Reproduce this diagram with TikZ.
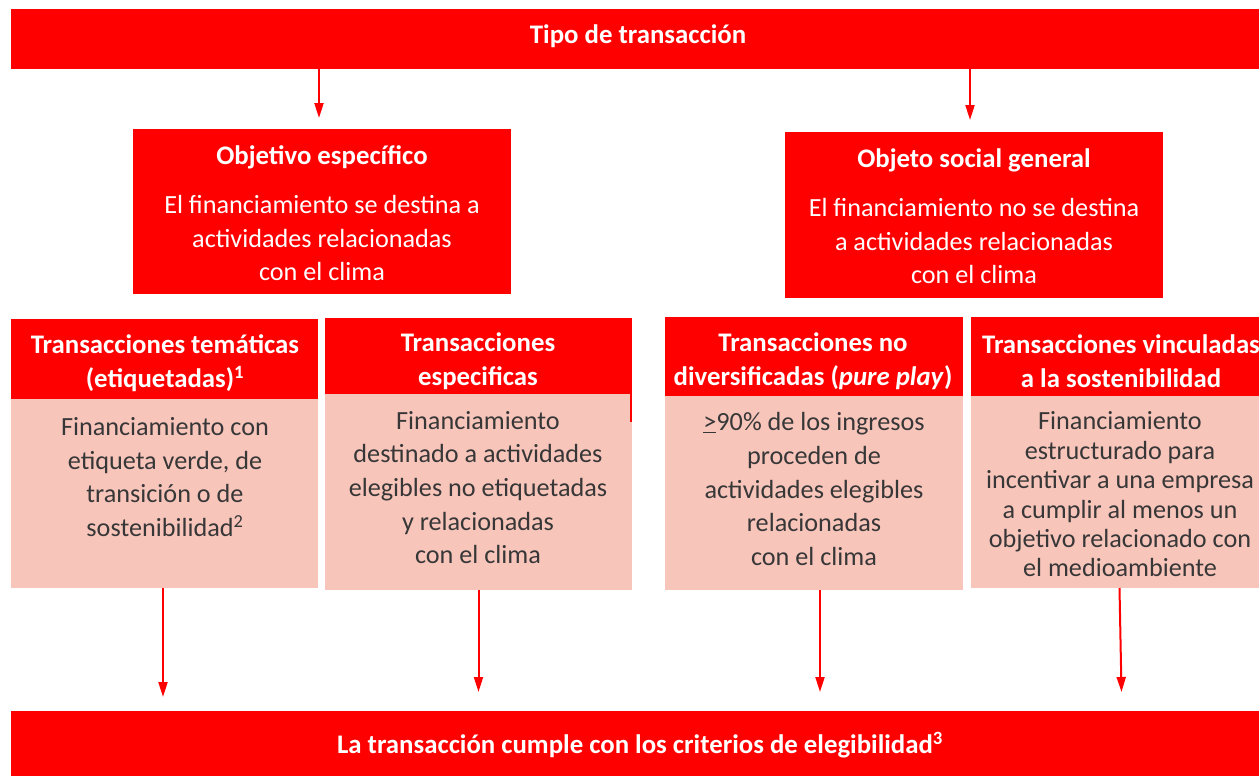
\documentclass[tikz,border=0pt]{standalone}
\usepackage{fontspec}
\setmainfont{Carlito}
\usetikzlibrary{arrows.meta}
\definecolor{sred}{RGB}{255,0,0}
\definecolor{spink}{RGB}{248,197,187}
\definecolor{sgray}{RGB}{55,55,55}
\begin{document}
\begin{tikzpicture}[x=1pt,y=-1pt,
  redbox/.style={fill=sred, draw=none, inner sep=0pt, outer sep=0pt, anchor=north west},
  pinkbox/.style={fill=spink, draw=none, inner sep=0pt, outer sep=0pt, anchor=north west},
  hdtxt/.style={text=white, align=center, inner sep=0pt, font=\fontsize{26.8}{34}\selectfont\bfseries},
  wtxt/.style={text=white, align=center, inner sep=0pt, font=\fontsize{26.2}{33.5}\selectfont},
  btxt/.style={text=sgray, align=center, inner sep=0pt, font=\fontsize{26.2}{33.7}\selectfont},
  arr/.style={draw=sred, line width=2pt, -{Triangle[length=15pt,width=9pt]}}
]
\useasboundingbox (0,0) rectangle (1259,776);
\clip (0,0) rectangle (1259,776);

% boxes
\node[redbox, minimum width=1254pt, minimum height=60pt] (top) at (11,9) {};
\node[redbox, minimum width=378pt, minimum height=165pt] (obj1) at (133,129) {};
\node[redbox, minimum width=378pt, minimum height=166pt] (obj2) at (785,132) {};
\node[redbox, minimum width=307pt, minimum height=80pt] (h1) at (11,319) {};
\node[pinkbox, minimum width=307pt, minimum height=189pt] (b1) at (11,399) {};
\node[redbox, minimum width=307pt, minimum height=76pt] (h2) at (325,318) {};
\node[pinkbox, minimum width=307pt, minimum height=196pt] (b2) at (325,394) {};
\fill[sred] (630,394) rectangle (632,422);
\node[redbox, minimum width=298pt, minimum height=79pt] (h3) at (665,317) {};
\node[pinkbox, minimum width=298pt, minimum height=194pt] (b3) at (665,396) {};
\node[redbox, minimum width=300pt, minimum height=79pt] (h4) at (971,317) {};
\node[pinkbox, minimum width=300pt, minimum height=192pt] (b4) at (971,396) {};
\node[redbox, minimum width=1254pt, minimum height=70pt] (bot) at (11,711) {};

% texts
\node[hdtxt] (ttop) at (638,36) {Tipo de transacción};
\node[hdtxt] (tobj1) at (322,157) {Objetivo específico};
\node[wtxt] (bobj1) at (322,238) {El financiamiento se destina a\\actividades relacionadas\\con el clima};
\node[hdtxt] (tobj2) at (974,160) {Objeto social general};
\node[wtxt] (bobj2) at (974,241) {El financiamiento no se destina\\a actividades relacionadas\\con el clima};
\node[hdtxt] (th1) at (165,363) {Transacciones temáticas\\(etiquetadas)\textsuperscript{1}};
\node[btxt] (tb1) at (165,477) {Financiamiento con\\etiqueta verde, de\\transición o de\\sostenibilidad\textsuperscript{2}};
\node[hdtxt] (th2) at (478,361) {Transacciones\\especificas};
\node[btxt] (tb2) at (478,487.5) {Financiamiento\\destinado a actividades\\elegibles no etiquetadas\\y relacionadas\\con el clima};
\node[hdtxt] (th3) at (813,361) {Transacciones no\\diversificadas (\textit{pure play})};
\node[btxt] (tb3) at (814,489) {\underline{>}90\% de los ingresos\\proceden de\\actividades elegibles\\relacionadas\\con el clima};
\node[hdtxt] (th4) at (1121,361) {Transacciones vinculadas\\a la sostenibilidad};
\node[btxt, font=\fontsize{26.2}{29.4}\selectfont] (tb4) at (1120,494.5) {Financiamiento\\estructurado para\\incentivar a una empresa\\a cumplir al menos un\\objetivo relacionado con\\el medioambiente};
\node[hdtxt] (tbot) at (640,745) {La transacción cumple con los criterios de elegibilidad\textsuperscript{3}};

% connectors
\draw[arr] ([xshift=-3pt]top.south -| obj1.north) -- ([xshift=-3pt,yshift=11pt]obj1.north);
\draw[arr] ([xshift=-4pt]top.south -| obj2.north) -- ([xshift=-4pt,yshift=12pt]obj2.north);
\draw[arr] ([xshift=-1.5pt]b1.south) -- ([xshift=-1.5pt,yshift=14pt]bot.north -| b1.south);
\draw[arr] (b2.south) -- ([yshift=19pt]bot.north -| b2.south);
\draw[arr] ([xshift=6pt]b3.south) -- ([xshift=6pt,yshift=19pt]bot.north -| b3.south);
\draw[arr] ([xshift=-1.5pt]b4.south) -- ([xshift=0.5pt,yshift=19pt]bot.north -| b4.south);
\end{tikzpicture}
\end{document}
